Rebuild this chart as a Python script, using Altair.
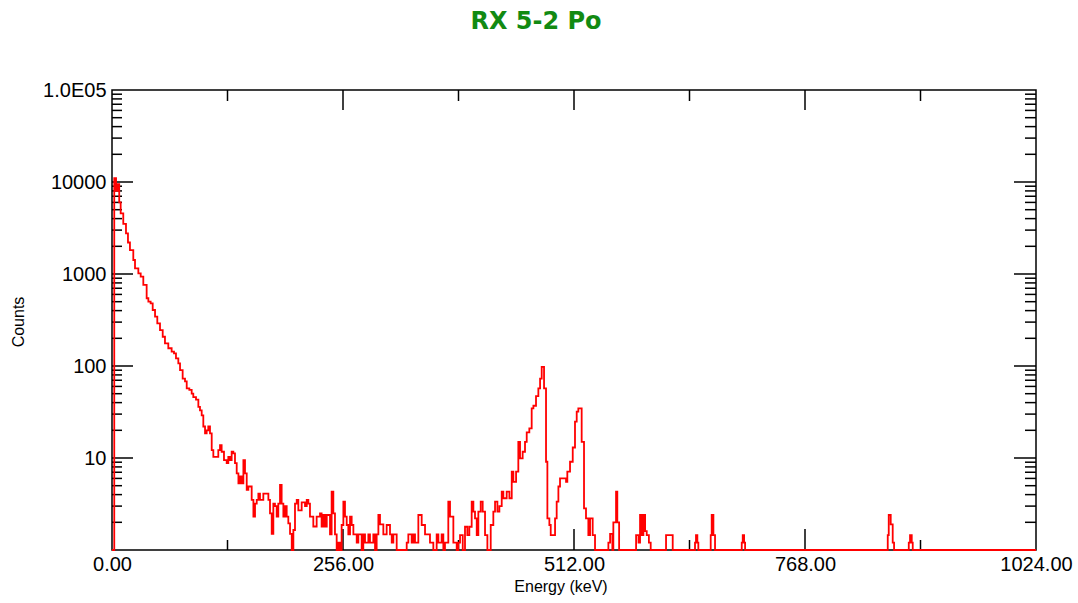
import altair as alt
import pandas as pd

# ---- data (segment start energy in keV, counts) ----
energy_kev = [
    0, 2.5, 4.5, 6, 8, 9.6, 12.5, 15.5, 17.7, 19.9, 23.6, 25.5, 29.2, 31.8, 34.7, 38.4, 40.3, 42.8,
    45.1, 47.7, 50.2, 53.2, 56.2, 58.7, 62.4, 66.1, 68.7, 70.9, 73.5, 75.4, 78.3, 80.9, 82.8, 85.7,
    88.3, 90.1, 93.1, 95.7, 97.5, 99.4, 101.2, 103.1, 104.9, 106.7, 108.6, 110.5, 112.3, 117.8,
    119.7, 121.5, 124.1, 127.1, 128.9, 130.8, 132.6, 134.5, 136.3, 138.2, 140.1, 141.9, 143.7,
    145.6, 147.4, 149.3, 151.1, 154.8, 156.7, 158.5, 160.4, 162.2, 164, 167.7, 173.3, 175.1, 177,
    178.8, 180.6, 182.5, 184.3, 186.2, 188, 189.9, 191.7, 193.6, 195.4, 197.3, 199.2, 201, 202.8,
    204.7, 206.5, 210.2, 213.9, 215.8, 217.6, 219.4, 223.1, 226.8, 230.5, 232.3, 234.2, 236, 238,
    241.6, 243.4, 245.3, 247.1, 249, 250.8, 252.7, 254.5, 256.4, 258.2, 260.1, 261.9, 263.8, 265.6,
    267.5, 271.2, 273, 276.7, 278.5, 280.4, 284.1, 285.9, 289.6, 291.5, 293.3, 295.2, 297, 300.7,
    304.4, 308.1, 310, 311.8, 315.5, 326.6, 328.4, 332.1, 334, 335.8, 339.5, 343.2, 346.9, 352.4,
    356.1, 359.8, 361.7, 365.3, 367.2, 369, 372.7, 374.6, 378.3, 382, 383.8,
    385.7, 388.7, 391.2, 393.8, 396, 398.6, 400.5, 402.3, 404.2, 406, 408.6, 410.8, 413.4, 416,
    419.7, 422.6, 424.5, 427.1, 429.3, 431.9, 433.7, 437.4, 440.4, 443, 444.8, 447.8, 450.3, 452.2,
    455.1, 457.7, 459.6, 462.5, 465.1, 467, 469.9, 472.5, 474.4, 476.2, 478.8, 481, 482.5, 484.7,
    486.2, 491, 492.8, 494.7, 496.5, 503.2, 504.6, 507.6, 510.6, 513.1, 515, 516.8, 520.5, 523.1,
    525.3, 527.9, 529.8, 532.7, 535.3,
    550.1, 552, 554.5, 555.6, 558.6, 560, 562, 580.8, 583.5, 585.2, 587.1, 588.9, 590.8, 592.6,
    595, 597, 614, 621.4, 646.1, 647.2, 648.7, 649.8, 663.5, 664.6, 666.5, 668.3, 697.9, 699,
    700.5, 701.6, 859.7, 860.8, 863, 865.2, 866.7, 883, 884.4, 886.3, 887.4, 1024,
]
counts = [
    1, 11000, 8000, 9500, 6000, 4570, 3500, 2770, 2200, 1820, 1420, 1150, 1015, 935, 760, 545, 500, 480,
    406, 344, 291, 246, 208, 176, 156, 143, 137, 121, 107, 90, 73, 68, 57, 55,
    50, 46, 43, 36, 33, 29, 22, 18.5, 20, 22, 18.5, 12.2, 10.3, 12.2,
    13.8, 11.7, 9.5, 8.8, 10.3, 9.5, 11.7, 11.2, 8.8, 6.8, 5.3, 6.3, 5.3,
    9.5, 6.8, 4.5, 4.9, 3.5, 2.3, 3.2, 3.5, 4.1, 3.5, 4.1, 3.5, 2.5, 1.5,
    3.2, 3.0, 2.3, 3.2, 5.1, 3.2, 2.3, 3.0, 2.3, 1.95, 1.5, 1, 1.65, 3.2,
    3.5, 2.7, 3.3, 3.0, 3.5, 3.2, 2.3, 1.8, 2.3, 2.5, 1.8, 2.4, 1.8, 2.4,
    1.48, 4.3, 2.5, 1.48, 1, 1.2, 1, 1.87, 3.35, 2.3, 1.87, 1.48, 2.3, 1.87,
    1.48, 1.2, 1.48, 1, 1.48, 1.2, 1.48, 1.2, 1.48, 1, 1.48, 2.4, 1.9, 1.48,
    1.87, 1.48, 1.2, 1.48, 1, 1.2, 1.48, 1.2, 1.48, 1.2, 2.4, 1.87, 1.48, 1.2,
    1, 1.48, 1.2, 1.48, 1, 1.2, 3.35, 2.3, 1.2, 1, 1.2,
    1.45, 1, 1.79, 1.45, 1.79, 3.35, 2.61, 2.21, 1.45, 2.61, 3.35, 2.61, 1.45, 1,
    1.87, 2.61, 3.35, 2.61, 3.0, 4.3, 3.65, 4.3, 3.65, 7.1, 5.5, 7.1, 15, 9.9,
    11.7, 15, 19, 21, 34.6, 37, 47, 57, 73, 98, 57, 9.1, 2.21, 1.87,
    1.45, 2.21, 3.35, 4.9, 6.0, 5.5, 7.1, 9.1, 13, 24.8, 32, 34.6, 15, 2.84,
    2.21, 1.45, 2.21, 1.45, 1,
    1.2, 1.5, 1, 2.0, 4.3, 2.0, 1, 1.45, 1.2, 2.4, 1.45, 2.4, 1.6, 1.45,
    1.2, 1, 1.45, 1, 1.2, 1.45, 1.2, 1, 1.45, 2.4, 1.45, 1, 1.2, 1.45,
    1.2, 1, 1.45, 2.4, 1.9, 1.2, 1, 1.2, 1.45, 1.2, 1, 1,
]

x_label_values = [0, 256, 512, 768, 1024]
x_major_ticks = [256, 512, 768]
x_minor_ticks = [128, 384, 640, 896]
y_label_values = [10, 100, 1000, 10000, 100000]
y_major_ticks = [10, 100, 1000, 10000]
y_minor_ticks = [2, 3, 4, 5, 6, 7, 8, 9,
                 20, 30, 40, 50, 60, 70, 80, 90,
                 200, 300, 400, 500, 600, 700, 800, 900,
                 2000, 3000, 4000, 5000, 6000, 7000, 8000, 9000,
                 20000, 30000, 40000, 50000, 60000, 70000, 80000, 90000]

title_text = "RX 5-2 Po"
x_title = "Energy (keV)"
y_title = "Counts"

W, H = 924, 460
FONT = "Liberation Sans"

df = pd.DataFrame({"energy": energy_kev, "counts": counts})

xscale = alt.Scale(domain=[0, 1024], nice=False, zero=False)
yscale = alt.Scale(type="log", domain=[1, 100000], nice=False, clamp=True)

x_axis = alt.Axis(
    values=x_label_values, format=".2f", title=None, ticks=False, domain=False,
    grid=False, labelFont=FONT, labelFontSize=20, labelColor="#000000",
    labelPadding=4, labelFlush=False, labelOverlap=False)
y_axis = alt.Axis(
    values=y_label_values, title=None, ticks=False, domain=False, grid=False,
    labelExpr="datum.value >= 100000 ? '1.0E05' : format(datum.value, 'd')",
    labelFont=FONT, labelFontSize=20, labelColor="#000000",
    labelPadding=6, labelOverlap=False, labelFlush=False)

line = alt.Chart(df).mark_line(
    color="#ff0000", strokeWidth=1.8, interpolate="step-after"
).encode(
    x=alt.X("energy:Q", scale=xscale, axis=x_axis),
    y=alt.Y("counts:Q", scale=yscale, axis=y_axis),
)

frame = alt.Chart(pd.DataFrame({"k": [0]})).mark_rect(
    fill="transparent", stroke="#000000", strokeWidth=1.5
).encode(x=alt.value(0), x2=alt.value(W), y=alt.value(0), y2=alt.value(H))


def vrules(vals, y0, y1):
    return alt.Chart(pd.DataFrame({"energy": vals})).mark_rule(color="#000000", strokeWidth=1.5).encode(
        x=alt.X("energy:Q", scale=xscale, axis=x_axis), y=alt.value(y0), y2=alt.value(y1))


def hrules(vals, x0, x1):
    return alt.Chart(pd.DataFrame({"counts": vals})).mark_rule(color="#000000", strokeWidth=1.5).encode(
        y=alt.Y("counts:Q", scale=yscale, axis=y_axis), x=alt.value(x0), x2=alt.value(x1))


ticks = [
    vrules(x_major_ticks, H, H - 21), vrules(x_minor_ticks, H, H - 10),
    vrules(x_major_ticks, 0, 20), vrules(x_minor_ticks, 0, 11),
    hrules(y_major_ticks, 0, 21), hrules(y_minor_ticks, 0, 10),
    hrules(y_major_ticks, W, W - 22), hrules(y_minor_ticks, W, W - 11),
]

title = alt.Chart(pd.DataFrame({"t": [title_text]})).mark_text(
    font="DejaVu Sans", fontWeight="bold", fontSize=24, color="#128a12",
    align="center", baseline="middle").encode(
    text="t:N", x=alt.value(424), y=alt.value(-68))

xt = alt.Chart(pd.DataFrame({"t": [x_title]})).mark_text(
    font=FONT, fontSize=16, color="#000000", align="center", baseline="middle").encode(
    text="t:N", x=alt.value(449), y=alt.value(497))

yt = alt.Chart(pd.DataFrame({"t": [y_title]})).mark_text(
    font=FONT, fontSize=16, color="#000000", align="center", baseline="middle", angle=270).encode(
    text="t:N", x=alt.value(-93), y=alt.value(232))

chart = alt.layer(frame, *ticks, line, title, xt, yt).properties(
    width=W, height=H, autosize="none",
    padding={"left": 112, "top": 90, "right": 42, "bottom": 53},
    background="#ffffff",
).configure_view(stroke="transparent", strokeWidth=0)

chart.save("out.html", embed_options={"renderer": "svg", "actions": False})
